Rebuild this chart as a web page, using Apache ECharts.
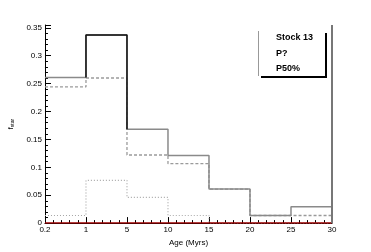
<!DOCTYPE html>
<html><head><meta charset="utf-8">
<script src="https://cdn.jsdelivr.net/npm/echarts@6/dist/echarts.min.js"></script>
<style>html,body{margin:0;padding:0;background:#fff}#c{width:371px;height:252px}</style>
</head><body><div id="c"></div>
<script>
const edgeLabels = ['0.2','1','5','10','15','20','25','30'];
const solidVals  = [0.261, 0.337, 0.168, 0.121, 0.061, 0.0136, 0.0295];
const dashedVals = [0.244, 0.260, 0.122, 0.1065, 0.061, 0.0136, 0.0136];
const dottedVals = [0.0136, 0.0765, 0.046, 0.0136, 0, 0, 0];
const zeroVals   = [0, 0, 0, 0, 0, 0, 0];
const peakBin = 1;
const legendLines = ['Stock 13', 'P?', 'P50%'];

function hist(vals){
  const d = vals.map((v,i)=>[i,v]);
  d.push([vals.length, vals[vals.length-1]]);
  return d;
}
const peakData = [[peakBin, solidVals[peakBin-1]],[peakBin, solidVals[peakBin]],[peakBin+1, solidVals[peakBin]],[peakBin+1, solidVals[peakBin+1]]];

const chart = echarts.init(document.getElementById('c'));
const font = 'Liberation Sans';
chart.setOption({
  animation:false,
  grid:{left:38, right:39, top:25, bottom:26},
  xAxis:{
    type:'value', min:0, max:7, interval:1,
    name:'Age (Myrs)', nameLocation:'middle', nameGap:11,
    nameTextStyle:{fontFamily:font, fontSize:8, color:'#000'},
    axisLine:{lineStyle:{color:'#000',width:1}},
    axisTick:{inside:true, length:6, lineStyle:{color:'#000'}},
    minorTick:{show:true, splitNumber:5, length:3, lineStyle:{color:'#000'}},
    splitLine:{show:false},
    axisLabel:{fontFamily:font, fontSize:8, color:'#000', margin:3, formatter:v=>edgeLabels[v]}
  },
  yAxis:{
    type:'value', min:0, max:0.355, interval:0.05,
    name:'{f|f}{s|star}', nameLocation:'middle', nameGap:22, nameRotate:90,
    nameTextStyle:{rich:{f:{fontFamily:font,fontSize:7,color:'#000'},s:{fontFamily:font,fontSize:5,color:'#000',verticalAlign:'bottom',padding:[3,0,0,0]}}},
    axisLine:{show:true, lineStyle:{color:'#000',width:1}},
    axisTick:{inside:true, length:6, lineStyle:{color:'#000'}},
    minorTick:{show:true, splitNumber:5, length:3, lineStyle:{color:'#000'}},
    splitLine:{show:false},
    axisLabel:{fontFamily:font, fontSize:8, color:'#000', margin:3, formatter:v=>(v>0.351?'':(v===0?'0':String(+v.toFixed(2))))}
  },
  series:[
    {type:'line', step:'end', data:hist(dottedVals), symbol:'none', lineStyle:{color:'#a8a8a8', width:1.2, type:[1,2]}},
    {type:'line', step:'end', data:hist(dashedVals), symbol:'none', lineStyle:{color:'#9a9a9a', width:1.3, type:[3,2]}},
    {type:'line', step:'end', data:hist(solidVals), symbol:'none', lineStyle:{color:'#8a8a8a', width:1.5}},
    {type:'line', data:peakData, symbol:'none', lineStyle:{color:'#111', width:1.5}},
    {type:'line', step:'end', data:hist(zeroVals), symbol:'none', lineStyle:{color:'#a00000', width:1.5},
      markLine:{symbol:'none', silent:true, label:{show:false}, lineStyle:{color:'#777', width:2, type:'solid'}, data:[{xAxis:7}]}}
  ],
  graphic:[
    {type:'rect', shape:{x:261, y:33, width:66, height:45}, style:{fill:'#000'}, z:10},
    {type:'rect', shape:{x:258, y:30, width:67, height:46}, style:{fill:'#fff'}, z:11},
    {type:'line', shape:{x1:258.5, y1:31, x2:258.5, y2:76}, style:{stroke:'#999', lineWidth:1}, z:12},
    ...legendLines.map((t,i)=>({type:'text', x:276, y:38+i*15.5, style:{text:t, fontFamily:font, fontSize:9, fontWeight:'bold', fill:'#000', verticalAlign:'middle'}, z:12}))
  ]
});
</script></body></html>
